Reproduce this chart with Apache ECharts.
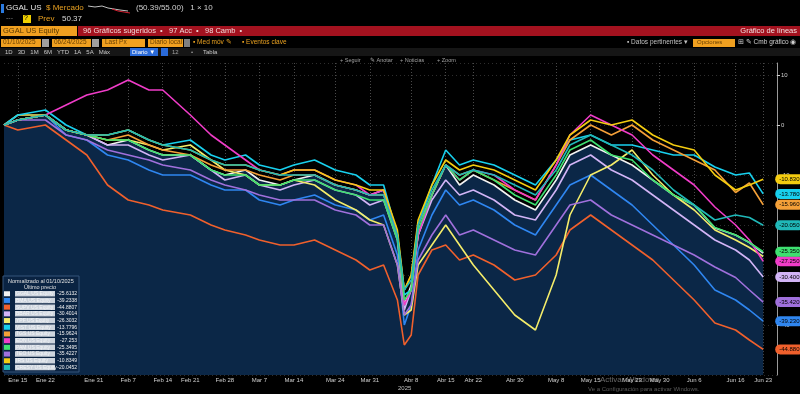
<!DOCTYPE html>
<html><head><meta charset="utf-8">
<script src="https://cdn.jsdelivr.net/npm/echarts@6/dist/echarts.min.js"></script>
<style>html,body{margin:0;padding:0;background:#000;}#c{width:800px;height:394px;}</style>
</head><body><div id="c"></div>
<script>
// ---------- DATA ----------
const dates = [
"2025-01-13","2025-01-14","2025-01-15","2025-01-16","2025-01-17","2025-01-21","2025-01-22","2025-01-23","2025-01-24","2025-01-27","2025-01-28","2025-01-29","2025-01-30","2025-01-31",
"2025-02-03","2025-02-04","2025-02-05","2025-02-06","2025-02-07","2025-02-10","2025-02-11","2025-02-12","2025-02-13","2025-02-14","2025-02-18","2025-02-19","2025-02-20","2025-02-21","2025-02-24","2025-02-25","2025-02-26","2025-02-27","2025-02-28",
"2025-03-03","2025-03-04","2025-03-05","2025-03-06","2025-03-07","2025-03-10","2025-03-11","2025-03-12","2025-03-13","2025-03-14","2025-03-17","2025-03-18","2025-03-19","2025-03-20","2025-03-21","2025-03-24","2025-03-25","2025-03-26","2025-03-27","2025-03-28","2025-03-31",
"2025-04-01","2025-04-02","2025-04-03","2025-04-04","2025-04-07","2025-04-08","2025-04-09","2025-04-10","2025-04-11","2025-04-14","2025-04-15","2025-04-16","2025-04-17","2025-04-21","2025-04-22","2025-04-23","2025-04-24","2025-04-25","2025-04-28","2025-04-29","2025-04-30",
"2025-05-01","2025-05-02","2025-05-05","2025-05-06","2025-05-07","2025-05-08","2025-05-09","2025-05-12","2025-05-13","2025-05-14","2025-05-15","2025-05-16","2025-05-19","2025-05-20","2025-05-21","2025-05-22","2025-05-23","2025-05-27","2025-05-28","2025-05-29","2025-05-30",
"2025-06-02","2025-06-03","2025-06-04","2025-06-05","2025-06-06","2025-06-09","2025-06-10","2025-06-11","2025-06-12","2025-06-13","2025-06-16","2025-06-17","2025-06-18","2025-06-20","2025-06-23","2025-06-24","2025-06-25"];

const tickLabels = {
"2025-01-15":"Ene 15","2025-01-22":"Ene 22","2025-01-31":"Ene 31","2025-02-07":"Feb 7","2025-02-14":"Feb 14","2025-02-21":"Feb 21","2025-02-28":"Feb 28",
"2025-03-07":"Mar 7","2025-03-14":"Mar 14","2025-03-24":"Mar 24","2025-03-31":"Mar 31","2025-04-08":"Abr 8","2025-04-15":"Abr 15","2025-04-22":"Abr 22","2025-04-30":"Abr 30",
"2025-05-08":"May 8","2025-05-15":"May 15","2025-05-23":"May 23","2025-05-30":"May 30","2025-06-06":"Jun 6","2025-06-16":"Jun 16","2025-06-23":"Jun 23"};

const sampleDates = [
"2025-01-13","2025-01-15","2025-01-22","2025-01-27","2025-01-30","2025-02-04","2025-02-07","2025-02-12","2025-02-14","2025-02-21","2025-02-26","2025-02-28",
"2025-03-05","2025-03-07","2025-03-12","2025-03-14","2025-03-19","2025-03-24","2025-03-27","2025-03-31","2025-04-02","2025-04-04","2025-04-07","2025-04-08",
"2025-04-09","2025-04-11","2025-04-15","2025-04-17","2025-04-22","2025-04-25","2025-04-30","2025-05-05","2025-05-08","2025-05-12","2025-05-15","2025-05-20",
"2025-05-23","2025-05-29","2025-06-03","2025-06-06","2025-06-11","2025-06-16","2025-06-18","2025-06-23"];

const names = ["GGAL US Equity","BMA US Equity","SUPV US Equity","BBAR US Equity","YPF US Equity","VIST US Equity","TGS US Equity","EDN US Equity","PAM US Equity","TEO US Equity","IRS US Equity","CRESY US Equity"];
const lastValues = ["-25.6132","-39.2338","-44.8807","-30.4014","-26.3032","-13.7796","-15.9624","-27.253","-25.3495","-35.4227","-10.8349","-20.0452"];
const colors = ["#f2f2f2","#2f86f0","#f0602c","#d2b4f6","#f4ec6a","#18d0ee","#f4a038","#f03cc8","#3ee070","#a070dc","#f4cc10","#20b8b8"];
const showTag = [false,true,true,true,false,true,true,true,true,true,true,true];

const GGAL  = [0,1,2,-1,-2,-4,-3,-5,-6,-6,-9,-10,-9,-11,-12,-11,-10,-12,-13,-14,-13,-22,-36,-32,-22,-14,-8,-12,-10,-12,-15,-17,-11,-6,-4,-6,-8,-11,-14,-16,-20.6,-22,-23.5,-25.61];
const BMA   = [0,1,2,-2,-3,-6,-7,-9,-10,-10,-12,-13,-13,-15,-16,-15,-14,-16,-17,-19,-18,-26,-40,-36,-25,-18,-13,-16,-15,-17,-20,-22,-16,-12,-10,-13,-16,-20,-24,-28,-33,-35,-37,-39.23];
const SUPV  = [0,-1,0,-3,-6,-12,-15,-16,-17,-18,-20,-21,-22,-23,-24,-24,-23,-25,-27,-29,-28,-35,-44,-42,-30,-25,-24,-27,-26,-28,-31,-30,-26,-21,-18,-21,-24,-27,-31,-35,-39.6,-41,-43,-44.88];
const BBAR  = [0,1,2,-1,-2,-4,-4,-6,-7,-6,-9,-11,-10,-12,-13,-12,-11,-13,-14,-16,-15,-23,-37,-33,-22,-15,-11,-14,-13,-15,-18,-19,-13,-8,-6,-9,-11,-14,-17,-20,-23,-25,-27,-30.40];
const YPF   = [0,2,2,-1,-2,-3,-3,-4,-5,-4,-7,-9,-10,-12,-12,-11,-12,-15,-17,-19,-20,-28,-38,-37,-28,-24,-20,-24,-28,-33,-38,-41,-30,-18,-10,-8,-5,-10,-14,-17,-21,-23,-24.5,-26.30];
const VIST  = [0,2,3,0,-2,-2,-1,-3,-4,-3,-6,-7,-6,-8,-9,-8,-7,-9,-10,-12,-12,-22,-34,-33,-20,-12,-5,-8,-7,-8,-10,-12,-7,-3,-2,-4,-4,-5,-6,-6,-8.4,-10,-9.6,-13.78];
const TGS   = [0,1,2,-1,-2,-3,-2,-4,-5,-6,-8,-9,-9,-10,-11,-10,-10,-12,-13,-14,-14,-22,-33,-30,-20,-14,-8,-10,-9,-11,-13,-15,-8,-3,0,-2,0,-3,-5,-7,-9,-13.5,-11.6,-15.96];
const EDN   = [0,1,2,4,6,7,9,7,7,2,-2,-4,-7,-9,-10,-9,-9,-11,-12,-14,-13,-22,-36,-33,-22,-14,-8,-11,-9,-10,-13,-15,-8,-2,2,0,-2,-6,-9,-12,-16.4,-20,-23,-27.25];
const PAM   = [0,1,2,-1,-2,-3,-3,-5,-6,-6,-9,-10,-10,-12,-12,-11,-11,-13,-14,-15,-15,-23,-35,-33,-21,-14,-8,-11,-9,-11,-14,-16,-10,-5,-3,-6,-7,-11,-14,-16,-20.5,-22,-23.5,-25.35];
const TEO   = [0,1,1,-2,-3,-5,-6,-7,-8,-9,-11,-12,-13,-14,-15,-15,-15,-17,-18,-20,-20,-28,-38,-36,-27,-22,-18,-22,-21,-23,-25,-26,-20,-16,-15,-18,-20,-22,-24,-26,-28.4,-30.5,-33,-35.42];
const IRS   = [0,1,2,-1,-2,-2,-1,-3,-4,-5,-7,-8,-8,-9,-10,-9,-9,-11,-12,-13,-13,-21,-33,-30,-19,-12,-7,-9,-8,-9,-11,-13,-7,-2,1,0,1,-2,-4,-5,-10,-13,-12,-10.83];
const CRESY = [0,1,2,-1,-2,-2,-1,-3,-4,-5,-7,-8,-8,-9,-10,-10,-10,-12,-13,-14,-14,-22,-33,-31,-20,-13,-8,-10,-9,-10,-12,-14,-9,-4,-2,-4,-6,-9,-13,-16,-19,-18,-18.5,-20.05];

const seriesValues = [GGAL,BMA,SUPV,BBAR,YPF,VIST,TGS,EDN,PAM,TEO,IRS,CRESY];
const yTicks = {min:-50, max:12.4, interval:10};

// ---------- CHART ----------
const FONT = "Liberation Sans, Arial, sans-serif";
const chart = echarts.init(document.getElementById('c'), null, {renderer:'canvas'});
const legendVal = {}; names.forEach((n,i)=>legendVal[n]=lastValues[i]);

const series = names.map((n,i)=>({
  name:n, type:'line', symbol:'none', smooth:false,
  data: sampleDates.map((d,k)=>[d, seriesValues[i][k]]),
  lineStyle:{color:colors[i], width:1.6},
  itemStyle:{color:colors[i]},
  areaStyle: i===0 ? {color:'#0b2747', opacity:1, origin:'start'} : undefined,
  z: i===0 ? 1 : 2,
  endLabel: showTag[i] ? {
    show:true, distance:12,
    formatter: p => Number(p.value[1]).toFixed(3),
    color:'#000', fontSize:6, fontFamily:FONT,
    backgroundColor:colors[i], borderRadius:6, padding:[2,4,2,4]
  } : {show:false},
  emphasis:{disabled:true}, animation:false
}));

const labelFn = (idx, val) => tickLabels[val] !== undefined;

const hdr = [];
function txt(x,y,s,color,size,extra){hdr.push(Object.assign({type:'text',left:x,top:y,silent:true,style:{text:s,fill:color,font:(size||7)+'px '+FONT}},extra||{}));}
function box(x,y,w,h,color){hdr.push({type:'rect',shape:{x:x,y:y,width:w,height:h},style:{fill:color},silent:true});}
// row 1
box(1,4,3,9,'#2a7ae0');
txt(6,4,'GGAL US','#e6e6e6',8); txt(46,4,'$ Mercado','#e8a020',8);
hdr.push({type:'polyline',shape:{points:[[88,6],[95,7],[102,6],[108,8],[114,9],[120,10],[128,11]]},style:{stroke:'#c0c0c0',lineWidth:1},silent:true});
hdr.push({type:'polyline',shape:{points:[[112,9],[118,11],[124,12],[130,13]]},style:{stroke:'#d02030',lineWidth:1},silent:true});
txt(136,4,'(50.39/55.00)   1 × 10','#d0d0d0',8);
// row 2
txt(6,15,'---','#808080',7); box(23,15,8,8,'#f0d000'); txt(24,15,'?','#000',7);
txt(38,15,'Prev','#e8a020',8); txt(62,15,'50.37','#d8d8d8',8);
// row 3
box(78,26,722,10,'#a3121f'); box(1,26,76,10,'#f0a020');
txt(3,27,'GGAL US Equity','#5a3a00',7.5);
txt(83,27,'96 Gráficos sugeridos  •   97 Acc  •   98 Camb  •','#f0d8d8',7.5);
txt(797,27,'Gráfico de líneas','#f0e0e0',7.5,{left:undefined,right:3});
// row 4
box(1,39,40,8,'#f0a020'); box(42,39,7,8,'#a0a0a0'); txt(3,39,'01/10/2025','#6a4000',6.5);
box(52,39,39,8,'#f0a020'); box(92,39,7,8,'#a0a0a0'); txt(54,39,'06/24/2025','#6a4000',6.5);
box(102,39,43,8,'#f0a020'); txt(105,39,'Last Px','#6a4000',6.5);
box(148,39,35,8,'#f0a020'); box(184,39,6,8,'#808080'); txt(150,39,'Diario local','#6a4000',6.5);
txt(193,39,'▪ Med móv ✎','#e8a020',6.5); txt(242,39,'▪ Eventos clave','#e8a020',6.5);
txt(627,39,'▪ Datos pertinentes ▾','#c0c0c0',6.5);
box(693,39,42,8,'#f0a020'); txt(697,39,'Opciones','#6a4000',6);
txt(738,39,'⊞ ✎ Cmb gráfico ◉','#d0d0d0',6.5);
// row 5
box(0,48,800,8,'#161616');
txt(5,49,'1D   3D   1M   6M   YTD   1A   5A   Máx','#c8c8c8',6);
box(130,48,28,8,'#2a6ad8'); txt(132,49,'Diario ▼','#fff',6);
box(161,48,7,8,'#2a6ad8'); txt(172,49,'12','#a0a0a0',6); txt(191,49,'•','#a0a0a0',6); txt(203,49,'Tabla','#c8c8c8',6);
// row 6
txt(340,57,'+ Seguir','#a0a0a0',5.5); txt(370,57,'✎ Anotar','#a0a0a0',5.5); txt(400,57,'+ Noticias','#a0a0a0',5.5); txt(437,57,'+ Zoom','#a0a0a0',5.5);
// legend box + title
hdr.push({type:'rect',shape:{x:3,y:276,width:76,height:96},style:{fill:'#0a2342',stroke:'#35557a',lineWidth:1},silent:true,z:5});
txt(8,278,'Normalizado al 01/10/2025','#e0e0e0',5.5,{z:6});
txt(24,284,'Último precio','#e0e0e0',5.5,{z:6});
// footer
txt(398,385,'2025','#c0c0c0',6);
txt(600,376,'Activar Windows','#6a6a6a',8);
txt(588,386,'Ve a Configuración para activar Windows.','#5a5a5a',6);

const option = {
  backgroundColor:'#000',
  animation:false,
  textStyle:{fontFamily:FONT},
  grid:{left:4, right:23, top:63, bottom:19, containLabel:false},
  xAxis:{type:'category', data:dates, boundaryGap:false,
    axisLine:{show:false}, axisTick:{show:false},
    axisLabel:{interval:labelFn, formatter: v => tickLabels[v] || '', hideOverlap:false, color:'#cfcfcf', fontSize:6, margin:2, fontFamily:FONT},
    splitLine:{show:true, interval:labelFn, lineStyle:{color:'#4a4a4a', type:[1,2], width:1}}},
  yAxis:{type:'value', position:'right', min:yTicks.min, max:yTicks.max, interval:yTicks.interval,
    axisLine:{show:true, lineStyle:{color:'#9a9a9a'}}, axisTick:{show:true, length:3, lineStyle:{color:'#cfcfcf'}},
    axisLabel:{color:'#cfcfcf', fontSize:6, margin:4, showMaxLabel:false, showMinLabel:false},
    splitLine:{show:true, lineStyle:{color:'#2e2e2e', type:[1,3]}}},
  legend:{show:true, orient:'vertical', left:4, top:291, itemWidth:6, itemHeight:5, itemGap:1.2,
    icon:'rect', padding:0, z:7, data:names,
    formatter: n => '{n|'+n+'}{v|'+legendVal[n]+'}',
    textStyle:{color:'#fff', fontSize:5, rich:{
      n:{width:38, height:5.5, backgroundColor:'#cdd4dd', color:'#f4f6f8', fontSize:5, padding:[0,1]},
      v:{width:22, align:'right', color:'#f0f0f0', fontSize:5}}}},
  graphic:hdr,
  series:series
};
chart.setOption(option);
</script></body></html>
